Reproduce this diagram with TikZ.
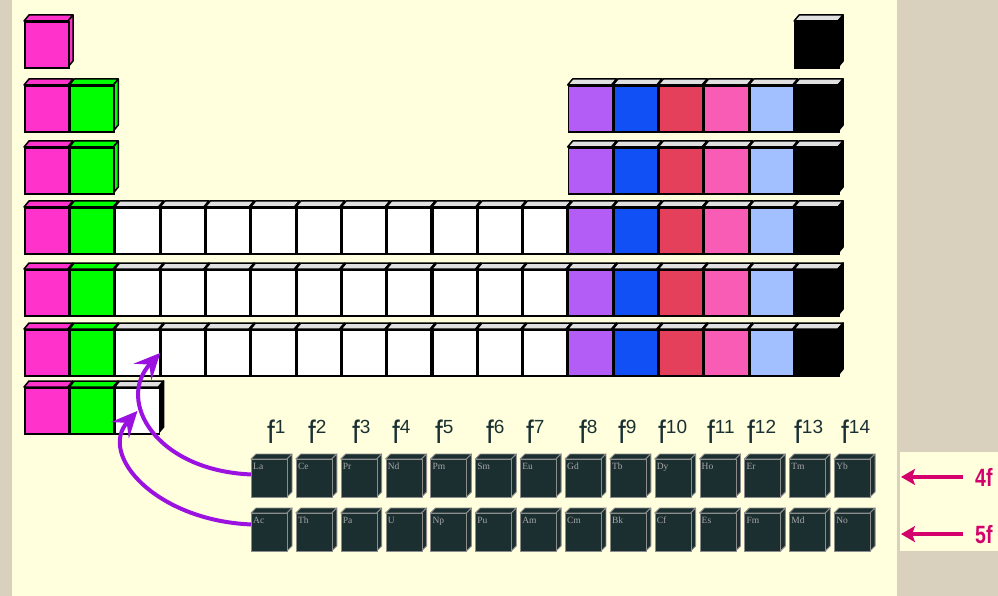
\documentclass[tikz,border=0pt]{standalone}
\usepackage{fontspec}
\setmainfont{Liberation Sans}
\newfontfamily\symfont{Liberation Serif}
\usetikzlibrary{arrows.meta}

\definecolor{linen}{HTML}{D9D0BE}
\definecolor{panel}{HTML}{FFFFDD}
\definecolor{smag}{HTML}{FF33CC}
\definecolor{sgreen}{HTML}{00FF00}
\definecolor{ppurple}{HTML}{B45CF6}
\definecolor{pblue}{HTML}{1150F5}
\definecolor{pred}{HTML}{E4405C}
\definecolor{ppink}{HTML}{F85CB4}
\definecolor{pltblue}{HTML}{A2C0FF}
\definecolor{topgrey}{HTML}{E0E0E0}
\definecolor{fdark}{HTML}{1B2E30}
\definecolor{fedgegrey}{HTML}{8C8C8C}
\definecolor{symgrey}{HTML}{A8A8A8}
\definecolor{flabel}{HTML}{1A3033}
\definecolor{arrviolet}{HTML}{9B12E0}
\definecolor{crimson}{HTML}{D4006C}

% block cube: name, x, y, front, top, side
\newcommand{\cube}[6]{%
  \filldraw[cubeedge, fill=#5] ({#2},{#3}) -- ++(5,-6) -- ++(44,0) -- ++(-5,6) -- cycle;
  \filldraw[cubeedge, fill=#6] ({#2+44},{#3}) -- ++(5,-6) -- ++(0,46) -- ++(-5,6) -- cycle;
  \node[cell, fill=#4] (#1) at ({#2},{#3}) {};
}
% f-block cube: symbol, x, y
\newcommand{\fcube}[3]{%
  \filldraw[fedge, fill=fdark] ({#2},{#3}) -- ++(5,-5) -- ++(36,0) -- ++(-5,5) -- cycle;
  \filldraw[fedge, fill=fdark] ({#2+36},{#3}) -- ++(5,-5) -- ++(0,38) -- ++(-5,5) -- cycle;
  \node[fcell] (#1) at ({#2},{#3}) {};
  \node[sym] at (#1.north west) {#1};
}

\begin{document}
\begin{tikzpicture}[x=1pt, y=-1pt,
    cubeedge/.style={draw=black, line width=1.5pt, line join=round},
    cell/.style={rectangle, draw=black, line width=1.8pt, minimum width=44pt, minimum height=46pt, inner sep=0pt, anchor=north west},
    fedge/.style={draw=fedgegrey, line width=0.9pt, line join=round},
    fcell/.style={rectangle, draw=fedgegrey, line width=0.9pt, fill=fdark, minimum width=36pt, minimum height=38pt, inner sep=0pt, anchor=north west},
    sym/.style={anchor=north west, inner sep=0pt, xshift=2pt, yshift=-4pt, text=symgrey, font=\symfont\fontsize{9.5}{9.5}\selectfont},
    flab/.style={anchor=base west, inner sep=0pt, text=flabel, font=\fontsize{31}{31}\selectfont},
    shelllab/.style={anchor=base west, inner sep=0pt, text=crimson, font=\bfseries\fontsize{25}{25}\selectfont},
    bendarrow/.style={draw=arrviolet, line width=4pt, -{Stealth[length=26pt,width=24pt,inset=10pt]}},
    magarrow/.style={draw=crimson, line width=3.2pt, -{Stealth[length=14pt,width=16pt,inset=3pt]}}
]
\useasboundingbox (0,0) rectangle (998,596);
\fill[linen] (0,0) rectangle (998,596);
\fill[panel] (12,0) rectangle (897,596);
\fill[panel] (900,452) rectangle (998,551);

% period 1
\cube{e1-1}{24}{21}{smag}{smag}{smag}
\cube{e1-18}{24+45.3*17}{21}{black}{topgrey}{black}

% periods 2 and 3
\foreach \r/\y in {2/85,3/147} {
  \foreach \c/\fc in {1/smag,2/sgreen} {\cube{e\r-\c}{24+45.3*(\c-1)}{\y}{\fc}{\fc}{\fc}}
  \foreach \c/\fc in {13/ppurple,14/pblue,15/pred,16/ppink,17/pltblue,18/black} {\cube{e\r-\c}{24+45.3*(\c-1)}{\y}{\fc}{topgrey}{\fc}}
}

% periods 4 to 6
\foreach \r/\y in {4/207,5/269,6/329} {
  \foreach \c/\fc in {1/smag,2/sgreen} {\cube{e\r-\c}{24+45.3*(\c-1)}{\y}{\fc}{\fc}{\fc}}
  \foreach \c in {3,...,12} {\cube{e\r-\c}{24+45.3*(\c-1)}{\y}{white}{topgrey}{black}}
  \foreach \c/\fc in {13/ppurple,14/pblue,15/pred,16/ppink,17/pltblue,18/black} {\cube{e\r-\c}{24+45.3*(\c-1)}{\y}{\fc}{topgrey}{\fc}}
}

% period 7
\foreach \c/\fc in {1/smag,2/sgreen} {\cube{e7-\c}{24+45.3*(\c-1)}{387}{\fc}{\fc}{\fc}}
\cube{e7-3}{24+45.3*2}{387}{white}{topgrey}{black}

% f-block
\foreach \s [count=\i] in {La,Ce,Pr,Nd,Pm,Sm,Eu,Gd,Tb,Dy,Ho,Er,Tm,Yb} {\fcube{\s}{251+44.85*(\i-1)}{459}}
\foreach \s [count=\i] in {Ac,Th,Pa,U,Np,Pu,Am,Cm,Bk,Cf,Es,Fm,Md,No} {\fcube{\s}{251+44.85*(\i-1)}{513}}

\foreach \n/\x in {1/267,2/308,3/352,4/392,5/435,6/486,7/526,8/579,9/618,10/658,11/707,12/747,13/794,14/841}
  \node[flab] (f\n) at (\x,443) {\scalebox{0.9}[1.05]{f}\raisebox{10pt}{\fontsize{19}{19}\selectfont\n}};

% shells
\node[shelllab] (lab4f) at (975,486) {\scalebox{0.78}[1]{4f}};
\node[shelllab] (lab5f) at (975,543) {\scalebox{0.78}[1]{5f}};
\coordinate (edge4f) at (901,476);
\coordinate (edge5f) at (901,533);
\draw[magarrow, shorten <=12pt] (lab4f.west) -- (lab4f.west -| edge4f);
\draw[magarrow, shorten <=12pt] (lab5f.west) -- (lab5f.west -| edge5f);

% Edges
\draw[bendarrow] ([yshift=4pt]La.west) .. controls +(-95,-4) and +(-45,48) .. (e6-3.east);
\draw[bendarrow] ([yshift=8pt]Ac.west) .. controls +(-95,-4) and +(-40,44) .. (e7-3.center);
\end{tikzpicture}
\end{document}
